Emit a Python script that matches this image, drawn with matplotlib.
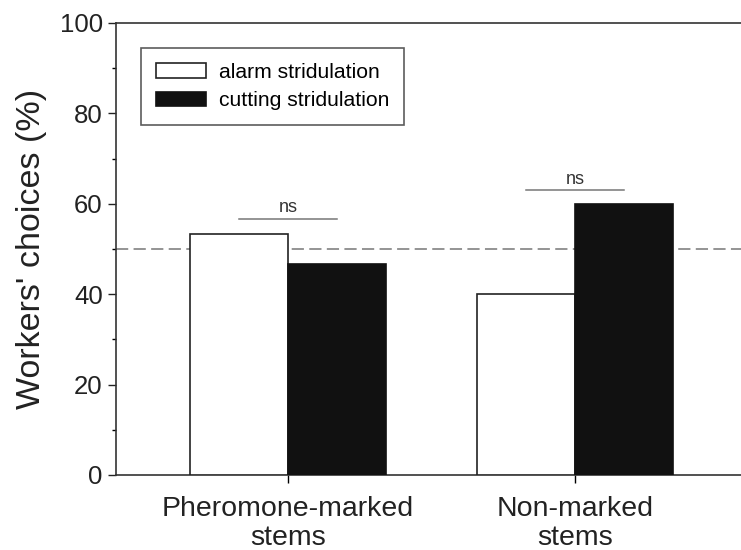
import matplotlib
matplotlib.use("Agg")
import matplotlib.pyplot as plt
import numpy as np
from matplotlib.ticker import MultipleLocator

plt.rcParams['font.family'] = ['Liberation Sans', 'DejaVu Sans']

categories = ["Pheromone-marked\nstems", "Non-marked\nstems"]
alarm = [53.3, 40.0]
cutting = [46.7, 60.0]
series_names = ["alarm stridulation", "cutting stridulation"]
sig_labels = ["ns", "ns"]
sig_heights = [56.6, 63.0]
reference_level = 50

W, H = 741, 550
fig = plt.figure(figsize=(W / 100, H / 100), dpi=100)
ax = fig.add_axes([116 / W, (H - 475) / H, (741 - 116) / W, (475 - 23) / H])

x = np.arange(len(categories))
bw = 0.341
ax.bar(x - bw / 2, alarm, bw, color='white', edgecolor='#222222', linewidth=1.2,
       label=series_names[0], zorder=3)
ax.bar(x + bw / 2, cutting, bw, color='#111111', edgecolor='#111111', linewidth=1.2,
       label=series_names[1], zorder=3)

ax.axhline(reference_level, color='#777777', linestyle=(0, (8, 3.5)), linewidth=1.1, zorder=2)

for xi, h, s in zip(x, sig_heights, sig_labels):
    ax.plot([xi - 0.17, xi + 0.17], [h, h], color='#777777', linewidth=1.1, zorder=4)
    ax.text(xi, h + 0.6, s, ha='center', va='bottom', fontsize=13, color='#333333')

ax.set_xlim(-0.6, 1.578)
ax.set_ylim(0, 100)
ax.set_xticks(x)
ax.set_xticklabels(categories, fontsize=20.5, color='#222222', linespacing=1.15)
ax.set_yticks(np.arange(0, 101, 20))
ax.yaxis.set_minor_locator(MultipleLocator(10))
ax.tick_params(axis='y', labelsize=18.5, colors='#222222', length=6, width=1, direction='out')
ax.tick_params(axis='y', which='minor', length=3, width=1)
ax.tick_params(axis='x', length=6, width=1, direction='out', pad=9)
ax.set_ylabel("Workers' choices (%)", fontsize=24.5, color='#222222', labelpad=9)

ax.spines['right'].set_visible(False)
for s in ['left', 'bottom', 'top']:
    ax.spines[s].set_color('#333333')
    ax.spines[s].set_linewidth(1.2)

leg = ax.legend(loc='upper left', bbox_to_anchor=((141 - 116) / 625, (475 - 48) / 452),
                fontsize=15.2, frameon=True, fancybox=False, borderpad=0.7,
                handlelength=2.4, handleheight=0.7, handletextpad=0.6, labelspacing=0.45,
                borderaxespad=0)
leg.get_frame().set_edgecolor('#333333')
leg.get_frame().set_linewidth(1.2)

fig.savefig("out.png", dpi=100)
